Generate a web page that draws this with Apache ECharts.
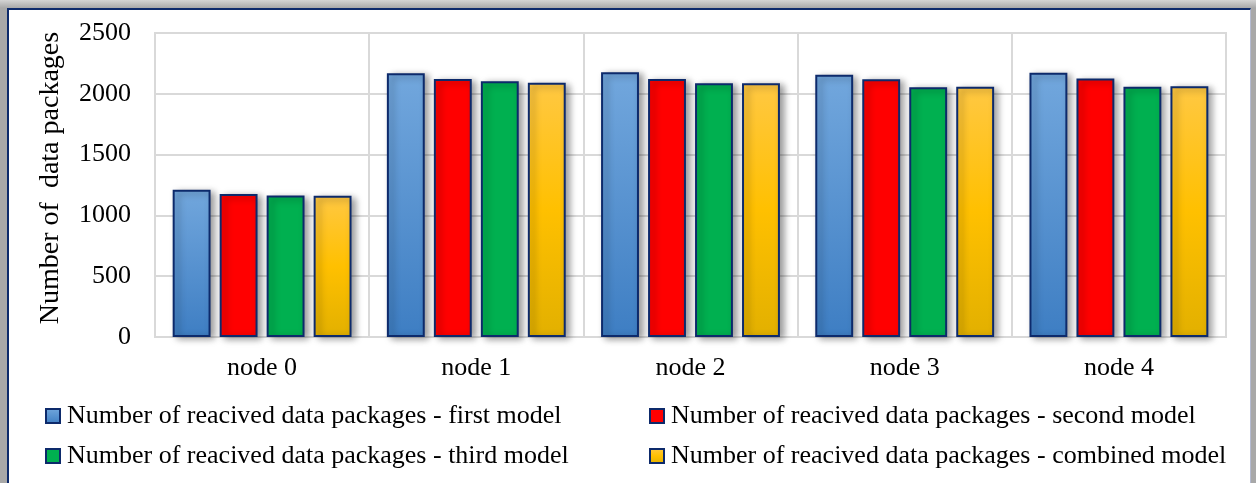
<!DOCTYPE html>
<html>
<head>
<meta charset="utf-8">
<script src="https://cdn.jsdelivr.net/npm/echarts@6/dist/echarts.min.js"></script>
<style>
html,body{margin:0;padding:0;}
#wrap{position:relative;width:1256px;height:483px;overflow:hidden;background:linear-gradient(to bottom,#d4d4d4 0px,#a8a8a8 8px,#a8a8a8 100%);}
#frame{position:absolute;left:7px;top:8px;width:1244px;height:490px;background:#fff;border-top:2px solid #0d2a6b;border-left:2px solid #0d2a6b;border-right:1px solid #b4bad0;box-sizing:border-box;}
#chart{position:absolute;left:0;top:0;width:1256px;height:483px;}
</style>
</head>
<body>
<div id="wrap"><div id="frame"></div><div id="chart"></div></div>
<script>
const categories = ['node 0', 'node 1', 'node 2', 'node 3', 'node 4'];
const seriesNames = [
  'Number of reacived data packages - first model',
  'Number of reacived data packages - second model',
  'Number of reacived data packages - third model',
  'Number of reacived data packages - combined model'
];
const firstModel = [1210, 2168, 2177, 2157, 2174];
const secondModel = [1175, 2122, 2122, 2119, 2125];
const thirdModel = [1163, 2104, 2086, 2053, 2058];
const combinedModel = [1162, 2090, 2087, 2059, 2063];
const yTicks = [0, 500, 1000, 1500, 2000, 2500];

const FONT = '"Liberation Serif", "DejaVu Serif", serif';
const navy = '#0d2a6b';
function grad(top, bottom) {
  return new echarts.graphic.LinearGradient(0, 0, 0, 1, [
    {offset: 0, color: top}, {offset: 1, color: bottom}
  ]);
}
const fills = [
  grad('#72a7dd', '#3e7ec3'),
  '#ff0000',
  '#00b050',
  new echarts.graphic.LinearGradient(0, 0, 0, 1, [
    {offset: 0, color: '#ffc843'}, {offset: 0.5, color: '#ffc000'}, {offset: 1, color: '#e2b000'}
  ])
];
const legendIconColors = ['#5b9bd5', '#ff0000', '#00b050', '#ffc000'];
const dataSets = [firstModel, secondModel, thirdModel, combinedModel];

const legendCommon = {
  orient: 'vertical', itemGap: 14, itemWidth: 14, itemHeight: 14, icon: 'rect',
  textStyle: {fontFamily: FONT, fontSize: 26, color: '#000', padding: [0, 0, 0, 2]}
};

const chart = echarts.init(document.getElementById('chart'), null, {renderer: 'canvas'});
chart.setOption({
  backgroundColor: 'transparent',
  animation: false,
  textStyle: {fontFamily: FONT},
  grid: {left: 155, right: 30, top: 33, bottom: 146, show: true, borderColor: '#d9d9d9', borderWidth: 2},
  legend: [
    Object.assign({left: 40, top: 398, data: [seriesNames[0], seriesNames[2]]}, legendCommon),
    Object.assign({left: 644, top: 398, data: [seriesNames[1], seriesNames[3]]}, legendCommon)
  ],
  xAxis: {
    type: 'category',
    data: categories,
    axisTick: {show: false},
    axisLine: {lineStyle: {color: '#d9d9d9', width: 2}},
    splitLine: {show: true, lineStyle: {color: '#d9d9d9', width: 2}},
    axisLabel: {fontFamily: FONT, fontSize: 26, color: '#000', margin: 18}
  },
  yAxis: {
    type: 'value',
    min: yTicks[0], max: yTicks[yTicks.length - 1], interval: yTicks[1] - yTicks[0],
    name: 'Number of  data packages',
    nameLocation: 'middle',
    nameGap: 90,
    nameTextStyle: {fontFamily: FONT, fontSize: 28, color: '#000', padding: [0, 0, 0, 14]},
    axisLine: {show: false},
    axisTick: {show: false},
    splitLine: {lineStyle: {color: '#d9d9d9', width: 2}},
    axisLabel: {fontFamily: FONT, fontSize: 26, color: '#000', margin: 24, formatter: v => String(v)}
  },
  series: dataSets.map((d, i) => ({
    name: seriesNames[i],
    type: 'bar',
    data: d,
    barGap: '24%',
    barCategoryGap: '16.5%',
    color: legendIconColors[i],
    itemStyle: {
      color: fills[i],
      borderColor: navy,
      borderWidth: 2,
      shadowColor: 'rgba(0,0,0,0.4)',
      shadowBlur: 7,
      shadowOffsetX: 4,
      shadowOffsetY: 2
    }
  }))
});
</script>
</body>
</html>
